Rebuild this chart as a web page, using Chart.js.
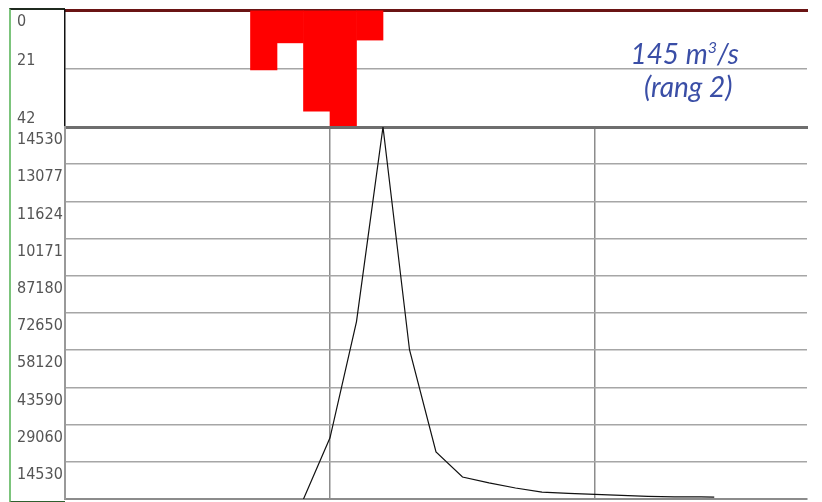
<!DOCTYPE html>
<html lang="fr">
<head>
  <title>Hyétogramme et hydrogramme</title>
  <script src="https://cdn.jsdelivr.net/npm/chart.js"></script>
  <style>
    body { margin: 0; background: #fff; width: 822px; height: 502px; overflow: hidden; position: relative; }
    #rainBox { position: absolute; left: 0; top: 0; width: 822px; height: 128px; }
    #flowBox { position: absolute; left: 0; top: 124px; width: 822px; height: 378px; }
    #labelCol { position: absolute; left: 9px; top: 8px; width: 54px; height: 491px;
      border-left: 2px solid #7cc47c; border-bottom: 2px solid #2f5f2f; border-top: 2px solid #1f2a1f; }
    #peakNote { position: absolute; right: 83px; top: 37px; text-align: right;
      font-family: Lato, "Open Sans", sans-serif; font-style: italic; font-weight: 400;
      font-size: 28px; line-height: 33px; color: #3a4ea6; }
    #peakNote sup { font-size: 16px; line-height: 0; vertical-align: 11px; }
  </style>
</head>
<body>
  <div id="labelCol"></div>
  <div id="rainBox"><canvas id="rainChart"></canvas></div>
  <div id="flowBox"><canvas id="flowChart"></canvas></div>
  <div id="peakNote">145 m<sup>3</sup>/s<br>(rang 2)&nbsp;</div>
  <script>
    // time axis, in time steps
    const timeMax = 28;
    const timeGrid = [0, 10, 20];

    // rainfall (hyetogram, hangs from the top)
    const rainX = [7.5, 8.5, 9.5, 10.5, 11.5];
    const rainMm = [21.5, 11.8, 36.3, 42, 10.8];
    const rainTicks = [0, 21, 42];
    const rainTickLabels = ['0', '21', '42'];

    // discharge (hydrogram)
    const flowX = [9, 10, 11, 12, 13, 14, 15, 16, 17, 18, 19, 20, 21, 22, 23, 24, 24.5];
    const flowQ = [0, 23900, 69300, 145300, 58300, 18400, 8600, 6300, 4300, 2700, 2200, 1800, 1400, 1000, 800, 800, 700];
    const flowTicks = [0, 14530, 29060, 43590, 58120, 72650, 87180, 101710, 116240, 130770, 145300];
    const flowTickLabels = ['', '14530', '29060', '43590', '58120', '72650', '87180', '10171', '11624', '13077', '14530'];

    const tickFont = { family: '"DejaVu Sans Condensed", "Liberation Sans Narrow", sans-serif', size: 16 };
    const gridGrey = '#a6a6a6';

    Chart.defaults.animation = false;
    Chart.defaults.responsive = true;
    Chart.defaults.maintainAspectRatio = false;
    Chart.defaults.plugins.legend.display = false;
    Chart.defaults.plugins.tooltip.enabled = false;

    // keep tick labels from pushing the plot area around
    function noPad(s, w) {
      s.width = w;
      s.paddingTop = 0;
      s.paddingBottom = 0;
    }

    new Chart(document.getElementById('rainChart'), {
      type: 'bar',
      data: {
        datasets: [{
          data: rainX.map((x, i) => ({ x: x, y: rainMm[i] })),
          backgroundColor: '#ff0000',
          borderWidth: 0,
          barPercentage: 1,
          categoryPercentage: 1
        }]
      },
      options: {
        layout: { padding: { left: 17, right: 15, top: 0, bottom: 1 } },
        scales: {
          x: {
            type: 'linear', position: 'top', min: 0, max: timeMax, offset: false,
            ticks: { display: false },
            grid: { display: false, drawTicks: false },
            border: { display: true, color: '#6a1414', width: 3 },
            afterFit: s => { s.height = 10; s.paddingLeft = 0; s.paddingRight = 0; }
          },
          y: {
            min: 0, max: 42, reverse: true,
            afterBuildTicks: s => { s.ticks = rainTicks.map(v => ({ value: v })); },
            afterFit: s => noPad(s, 48),
            ticks: {
              autoSkip: false,
              align: 'end', crossAlign: 'far', labelOffset: 0, color: '#555',
              font: ctx => Object.assign({}, tickFont, { lineHeight: ctx.tick && ctx.tick.value === 0 ? 2.45 : 1.2 }),
              callback: (v, i) => i === 0 ? ['', rainTickLabels[i]] : rainTickLabels[i]
            },
            grid: {
              drawTicks: false, lineWidth: 1.5,
              color: ctx => ctx.tick && ctx.tick.value === 21 ? gridGrey : 'rgba(0,0,0,0)'
            },
            border: { color: '#111', width: 1.5 }
          }
        }
      }
    });

    new Chart(document.getElementById('flowChart'), {
      type: 'line',
      data: {
        datasets: [{
          data: flowX.map((x, i) => ({ x: x, y: flowQ[i] })),
          borderColor: '#111',
          borderWidth: 1.2,
          pointRadius: 0,
          tension: 0
        }]
      },
      options: {
        layout: { padding: { left: 17, right: 15, top: 0, bottom: 0 } },
        scales: {
          x: {
            type: 'linear', min: 0, max: timeMax,
            afterBuildTicks: s => { s.ticks = timeGrid.map(v => ({ value: v })); },
            afterFit: s => { s.height = 3; s.paddingLeft = 0; s.paddingRight = 0; },
            ticks: { display: false, autoSkip: false },
            grid: { drawTicks: false, color: '#8c8c8c', lineWidth: 1.5 },
            border: { color: '#8c8c8c', width: 2 }
          },
          xTop: {
            type: 'linear', position: 'top', min: 0, max: timeMax,
            afterFit: s => { s.height = 3; s.paddingLeft = 0; s.paddingRight = 0; },
            ticks: { display: false },
            grid: { display: false, drawTicks: false },
            border: { color: '#6e6e6e', width: 3 }
          },
          y: {
            min: 0, max: 145300,
            afterBuildTicks: s => { s.ticks = flowTicks.map(v => ({ value: v })); },
            afterFit: s => noPad(s, 48),
            ticks: {
              autoSkip: false,
              align: 'start', crossAlign: 'far', labelOffset: 5, color: '#555', font: tickFont,
              callback: (v, i) => flowTickLabels[i]
            },
            grid: { drawTicks: false, color: gridGrey, lineWidth: 1.5 },
            border: { color: '#999', width: 2 }
          }
        }
      }
    });
  </script>
</body>
</html>
